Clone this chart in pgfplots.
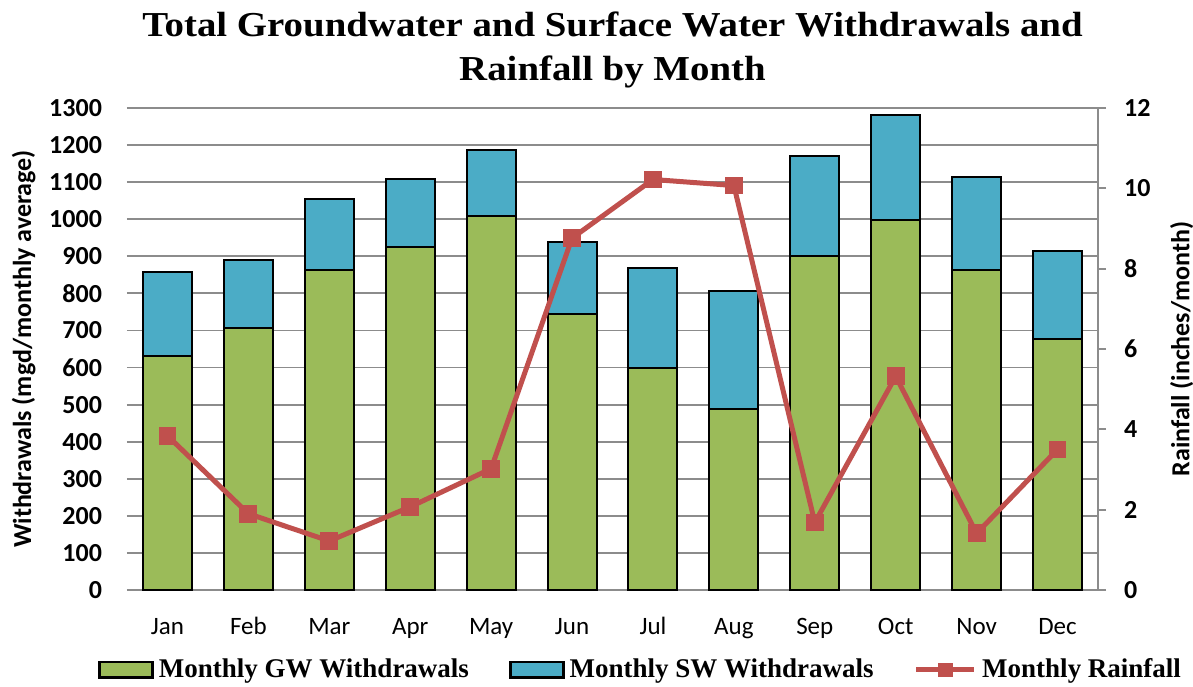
\documentclass[border=0pt]{standalone}
\usepackage{pgfplots}
\pgfplotsset{compat=1.18}
\usepackage{fontspec}
\setmainfont{Carlito}
\newfontfamily\titlefont[FakeStretch=1.11]{Liberation Serif}
\newfontfamily\legfont{Liberation Serif}
\definecolor{gw}{HTML}{9BBB59}
\definecolor{sw}{HTML}{4BACC6}
\definecolor{rain}{HTML}{C0504D}
\definecolor{gridc}{HTML}{8C8C8C}

\pgfplotstableread{
x gw sw rain
0 632 227 3.84
1 707 182 1.90
2 862 192 1.22
3 925 183 2.07
4 1008 179 3.02
5 745 194 8.76
6 600 268 10.22
7 487 320 10.07
8 901 270 1.68
9 998 283 5.32
10 862 253 1.41
11 676 237 3.50
}\datatable

\begin{document}
\begin{tikzpicture}
\begin{axis}[
  scale only axis, width=485.5pt, height=241pt,
  ybar stacked, bar width=24.5pt,
  xmin=-0.5, xmax=11.5, ymin=0, ymax=1300,
  xtick={0,...,11},
  xticklabels={Jan,Feb,Mar,Apr,May,Jun,Jul,Aug,Sep,Oct,Nov,Dec},
  ytick={0,100,...,1300},
  ymajorgrids, grid style={gridc, line width=0.9pt},
  axis line style={draw=none},
  tick style={draw=none},
  /pgf/number format/assume math mode=true,
  /pgf/number format/1000 sep={},
  yticklabel style={font=\fontsize{13}{15}\selectfont\bfseries, xshift=-9pt},
  xticklabel style={font=\fontsize{12.5}{14}\selectfont, anchor=base, yshift=-22pt},
  ylabel={Withdrawals (mgd/monthly average)},
  ylabel style={font=\fontsize{13}{15}\selectfont\bfseries, yshift=0pt},
  title={Total Groundwater and Surface Water Withdrawals and\\Rainfall by Month},
  title style={font=\titlefont\bfseries\fontsize{17.5}{22}\selectfont, align=center, at={(0.5,1)}, anchor=south, yshift=0.5pt},
  legend style={at={(0.528,-0.125)}, anchor=north, legend columns=3, draw=none,
    font=\legfont\bfseries\fontsize{13.5}{15}\selectfont,
    /tikz/every odd column/.append style={column sep=2.5pt},
    /tikz/every even column/.append style={column sep=20pt},
    nodes={inner xsep=0pt}},
  legend image code/.code={\draw[#1, line width=1.3pt] (0pt,-3.8pt) rectangle (26.5pt,3.8pt);},
  clip=false,
]
\addplot[fill=gw, draw=black, line width=1pt] table[x=x,y=gw]{\datatable};
\addlegendentry{Monthly GW Withdrawals}
\addplot[fill=sw, draw=black, line width=1pt] table[x=x,y=sw]{\datatable};
\addlegendentry{Monthly SW Withdrawals}
\addlegendimage{legend image code/.code={\draw[rain, line width=2.8pt] (0pt,0pt) -- (29pt,0pt); \fill[rain] (11.2pt,-3.3pt) rectangle (17.8pt,3.3pt);}}
\addlegendentry{Monthly Rainfall}
\coordinate (bl) at (rel axis cs:0,0);
\coordinate (tr) at (rel axis cs:1,1);
\end{axis}
\begin{axis}[
  scale only axis, width=485.5pt, height=241pt,
  xmin=-0.5, xmax=11.5, ymin=0, ymax=12,
  axis x line=none,
  axis y line*=right,
  y axis line style={gridc, line width=0.9pt},
  ytick={0,2,...,12},
  tick style={gridc, line width=0.9pt},
  major tick length=4pt,
  tick align=outside,
  /pgf/number format/assume math mode=true,
  yticklabel style={font=\fontsize{13}{15}\selectfont\bfseries, xshift=5.5pt},
  ylabel={Rainfall (inches/month)},
  ylabel style={font=\fontsize{13}{15}\selectfont\bfseries, yshift=-3pt},
  clip=false,
]
\addplot[rain, line width=2.5pt, mark=square*, mark size=3.2pt, mark options={fill=rain, draw=rain}] table[x=x,y=rain]{\datatable};
\end{axis}
\pgfresetboundingbox
\path[use as bounding box] ([xshift=-63.5pt,yshift=-48pt]bl) rectangle ([xshift=47.5pt,yshift=54pt]tr);
\end{tikzpicture}
\end{document}
